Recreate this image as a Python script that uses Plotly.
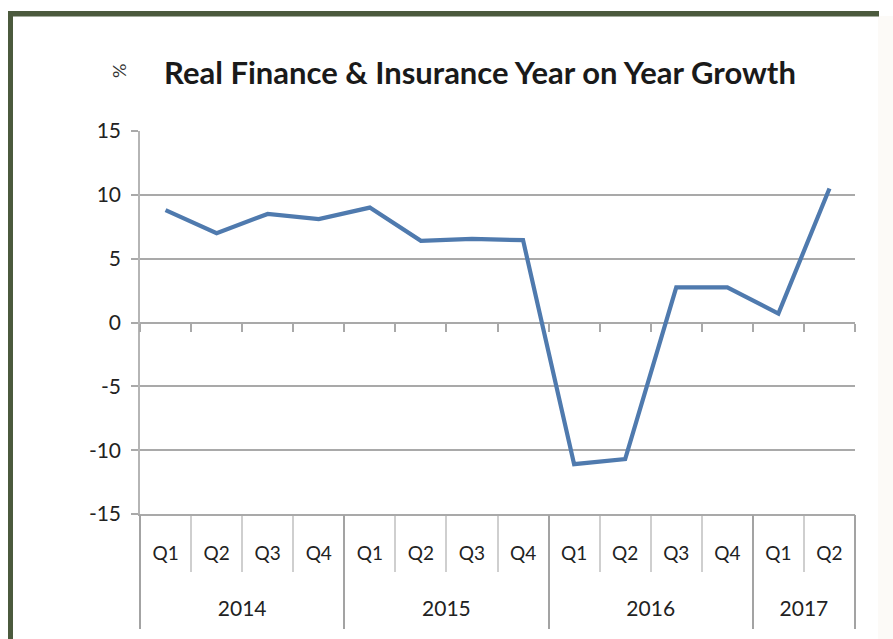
import plotly.graph_objects as go

# Quarterly year-on-year growth of real finance & insurance output (%)
years = ["2014", "2015", "2016", "2017"]
quarters_per_year = [4, 4, 4, 2]
quarters = ["Q1", "Q2", "Q3", "Q4",
            "Q1", "Q2", "Q3", "Q4",
            "Q1", "Q2", "Q3", "Q4",
            "Q1", "Q2"]
growth = [8.8, 7.0, 8.5, 8.1,
          9.0, 6.4, 6.55, 6.45,
          -11.1, -10.7, 2.75, 2.75,
          0.7, 10.5]
y_ticks = [-15, -10, -5, 0, 5, 10, 15]
y_tick_text = ["-15", "-10", "-5", "0", "5", "10", "15"]

W, H = 893, 639
ML, MR, MT, MB = 140, 38, 131, 8
PW, PH = W - ML - MR, H - MT - MB
PLOT_BOTTOM = 514          # pixel row of the lowest gridline

FONT = "Lato, Carlito, Liberation Sans, sans-serif"
GRID = "#a9a9a9"
LINE = "#4f7aae"
BORDER = "#4b5a3d"
TXT = "#222222"


def px_x(p):
    return (p - ML) / PW


def px_y(p):
    return (H - MB - p) / PH


n = len(quarters)
idx = list(range(n))
centers_q = idx

# year group boundaries and centres in category-index units
bounds_y = [-0.5]
for k in quarters_per_year:
    bounds_y.append(bounds_y[-1] + k)
centers_y = [(a + b) / 2 for a, b in zip(bounds_y[:-1], bounds_y[1:])]
bounds_q = [i - 0.5 for i in range(n + 1)]

ymin, ymax = min(y_ticks), max(y_ticks)
ydom0 = px_y(PLOT_BOTTOM)
zero_pos = ydom0 + (0 - ymin) / (ymax - ymin) * (1 - ydom0)
xr = [-0.5, n - 0.5]

fig = go.Figure()
fig.add_trace(go.Scatter(
    x=idx, y=growth, mode="lines",
    customdata=quarters,
    line=dict(color=LINE, width=4.2), showlegend=False,
    hovertemplate="%{customdata}: %{y}<extra></extra>",
))
# invisible companions so every overlaid x axis gets rendered
for ax in ["x2", "x3", "x4", "x5"]:
    fig.add_trace(go.Scatter(
        x=idx, y=growth, mode="lines", xaxis=ax,
        line=dict(width=0, color="rgba(0,0,0,0)"),
        showlegend=False, hoverinfo="skip",
    ))

common = dict(range=xr, showgrid=False, zeroline=False, tickmode="array",
              automargin=False)

fig.update_layout(
    width=W, height=H,
    margin=dict(l=ML, r=MR, t=MT, b=MB),
    paper_bgcolor="white", plot_bgcolor="white",
    font=dict(family=FONT, color=TXT),
    yaxis=dict(
        domain=[ydom0, 1], automargin=False,
        range=[ymin, ymax], tickmode="array", tickvals=y_ticks, ticktext=y_tick_text,
        showgrid=True, gridcolor=GRID, gridwidth=1.8,
        zeroline=False, showline=True, linecolor="#b5b5b5", linewidth=1.5,
        ticks="outside", ticklen=7, tickcolor=GRID, tickwidth=1.5,
        ticklabelstandoff=6,
        tickfont=dict(size=21, color=TXT, family=FONT),
    ),
    # bottom line with quarter separators
    xaxis=dict(**common, anchor="y", tickvals=bounds_q, showticklabels=False,
               showline=True, linecolor=GRID, linewidth=1.5,
               ticks="outside", ticklen=56, tickcolor="#cfcfcf", tickwidth=1.5),
    # tick marks along the zero line
    xaxis2=dict(**common, overlaying="x", anchor="free", position=zero_pos,
                tickvals=bounds_q, showticklabels=False, showline=False,
                ticks="outside", ticklen=8, tickcolor=GRID, tickwidth=1.5),
    # quarter labels
    xaxis3=dict(**common, overlaying="x", anchor="y", tickvals=centers_q,
                ticktext=quarters, ticks="", showline=False,
                ticklabelstandoff=26,
                tickfont=dict(size=19, color=TXT, family=FONT)),
    # year separators
    xaxis4=dict(**common, overlaying="x", anchor="y", tickvals=bounds_y,
                showticklabels=False, showline=False,
                ticks="outside", ticklen=114, tickcolor="#a3a3a3", tickwidth=1.5),
    # year labels
    xaxis5=dict(**common, overlaying="x", anchor="y", tickvals=centers_y,
                ticktext=years, ticks="", showline=False,
                ticklabelstandoff=80,
                tickfont=dict(size=21, color=TXT, family=FONT)),
    shapes=[
        dict(type="rect", xref="paper", yref="paper",
             x0=px_x(878), x1=px_x(W + 5), y0=px_y(H + 5), y1=px_y(16),
             fillcolor="#fcfaf7", line=dict(width=0), layer="below"),
        dict(type="rect", xref="paper", yref="paper",
             x0=px_x(8), x1=px_x(879), y0=px_y(16.5), y1=px_y(11),
             fillcolor=BORDER, line=dict(width=0)),
        dict(type="rect", xref="paper", yref="paper",
             x0=px_x(8), x1=px_x(13), y0=px_y(H + 5), y1=px_y(11),
             fillcolor=BORDER, line=dict(width=0)),
    ],
    annotations=[
        dict(text="<b>Real Finance &amp; Insurance Year on Year Growth</b>",
             xref="paper", yref="paper", x=px_x(480), y=px_y(72),
             xanchor="center", yanchor="middle", showarrow=False,
             font=dict(size=31, color="#1a1a1a", family=FONT)),
        dict(text="%", xref="paper", yref="paper",
             x=px_x(119), y=px_y(71), xanchor="center", yanchor="middle",
             textangle=-90, showarrow=False,
             font=dict(size=18, color="#333333", family=FONT)),
    ],
)

fig.write_html("out.html")
